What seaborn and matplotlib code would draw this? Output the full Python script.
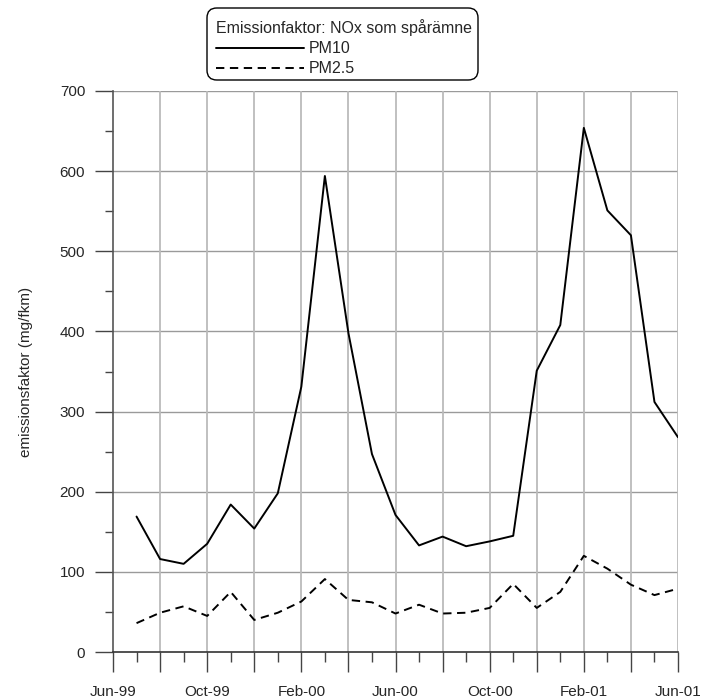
import matplotlib
matplotlib.use("Agg")
import matplotlib.pyplot as plt
from matplotlib.patches import FancyBboxPatch
import seaborn as sns
import pandas as pd
import numpy as np

months = ["Jul-99","Aug-99","Sep-99","Oct-99","Nov-99","Dec-99","Jan-00","Feb-00","Mar-00","Apr-00","May-00","Jun-00",
          "Jul-00","Aug-00","Sep-00","Oct-00","Nov-00","Dec-00","Jan-01","Feb-01","Mar-01","Apr-01","May-01","Jun-01"]
pm10 = [169, 116, 110, 135, 184, 154, 198, 331, 594, 398, 247, 171,
        133, 144, 132, 138, 145, 351, 408, 654, 551, 520, 312, 268]
pm25 = [36, 49, 57, 45, 75, 40, 49, 63, 91, 65, 62, 48,
        59, 48, 49, 55, 85, 55, 75, 120, 104, 84, 71, 79]
tick_labels = ["Jun-99", "Oct-99", "Feb-00", "Jun-00", "Oct-00", "Feb-01", "Jun-01"]

sns.set_style("white")
plt.rcParams['font.family'] = ['Liberation Sans', 'DejaVu Sans']
plt.rcParams['lines.scale_dashes'] = False
FS = 11
W, H = 701, 700

x = np.arange(1, len(months) + 1)
df = pd.DataFrame({"x": np.concatenate([x, x]),
                   "v": pm10 + pm25,
                   "serie": ["PM10"] * len(x) + ["PM2.5"] * len(x)})

fig = plt.figure(figsize=(7.01, 7.00), dpi=100)
ax = fig.add_axes([113/W, 1 - 652/H, (678-113)/W, (652-91)/H])

sns.lineplot(data=df, x="x", y="v", hue="serie", style="serie",
             palette=["black", "black"], dashes={"PM10": "", "PM2.5": (6, 4)},
             linewidth=1.4, ax=ax, legend=False)
ax.lines[1].set_linestyle((0, (6, 4)))

ax.set_xlim(0, 24)
ax.set_ylim(0, 700)

# grid
for v in range(100, 701, 100):
    ax.axhline(v, color="#9a9a9a", lw=1.0, zorder=0)
for m in range(2, 25, 2):
    ax.axvline(m, color="#bbbbbb", lw=1.3, zorder=0)

for s in ["top", "right"]:
    ax.spines[s].set_visible(False)
ax.spines["left"].set_color("#555555")
ax.spines["left"].set_linewidth(1.2)
ax.spines["bottom"].set_color("#333333")
ax.spines["bottom"].set_linewidth(1.2)

major_pos = np.arange(0, 25, 2)
major_lab = [tick_labels[p // 4] if p % 4 == 0 else "" for p in major_pos]
ax.set_xticks(major_pos)
ax.set_xticklabels(major_lab)
ax.set_xticks(np.arange(1, 25, 2), minor=True)
ax.tick_params(axis="x", which="both", bottom=True)
ax.tick_params(axis="x", which="major", direction="out", length=14.4, width=1.0,
               color="#444444", labelsize=FS, pad=9)
ax.tick_params(axis="x", which="minor", direction="out", length=7.2, width=1.0, color="#444444")

ax.set_yticks(np.arange(0, 701, 100))
ax.set_yticks(np.arange(50, 701, 100), minor=True)
ax.tick_params(axis="y", which="both", left=True)
ax.tick_params(axis="y", which="major", direction="out", length=13, width=1.0,
               color="#444444", labelsize=FS, pad=7)
ax.tick_params(axis="y", which="minor", direction="out", length=5.8, width=1.0, color="#444444")
ax.set_xlabel("")
ax.set_ylabel("emissionsfaktor (mg/fkm)", fontsize=FS)
ax.yaxis.set_label_coords(-0.142, 0.5)

# legend (frame drawn separately)
LFS = 11.5
h1 = matplotlib.lines.Line2D([], [], color="black", lw=1.4)
h2 = matplotlib.lines.Line2D([], [], color="black", lw=1.4, linestyle=(0, (6, 4)))
leg = fig.legend([h1, h2], ["PM10", "PM2.5"], title="Emissionfaktor: NOx som spårämne",
                 loc="upper left", bbox_to_anchor=(216/W, 1 - 19/H),
                 frameon=False, fontsize=LFS,
                 title_fontsize=LFS, handlelength=5.5, handletextpad=0.33,
                 labelspacing=0.33, borderpad=0, borderaxespad=0, alignment="left")
box = FancyBboxPatch((207/W, 1 - 80/H), (478-207)/W, (80-8)/H,
                     boxstyle="round,pad=0,rounding_size=0.014",
                     transform=fig.transFigure, facecolor="white",
                     edgecolor="black", linewidth=1.0, zorder=0)
fig.patches.append(box)

fig.savefig("out.png", dpi=100)
